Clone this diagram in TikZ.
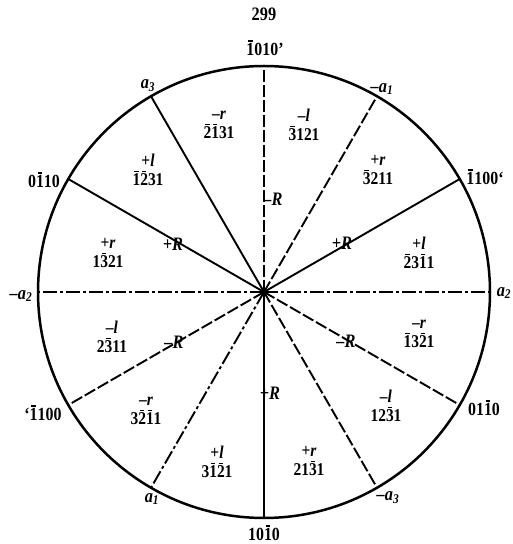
\documentclass[tikz,border=0pt]{standalone}
\usepackage{fontspec}
\setmainfont{Liberation Serif}[FakeStretch=0.86]
\newsavebox\obbox
\newcommand\ob[1]{\sbox\obbox{#1}\rlap{\hbox to\wd\obbox{\hss\rule[\dimexpr\ht\obbox+1.4pt\relax]{0.6\wd\obbox}{1.3pt}\hss}}\usebox\obbox{}}
\begin{document}
\begin{tikzpicture}[x=1pt,y=1pt,
  rimline/.style={line width=2.5pt},
  ray/.style={line width=1.9pt},
  dashray/.style={ray, dash pattern=on 12pt off 3pt},
  dotray/.style={ray, dash pattern=on 14pt off 3pt on 3pt off 3pt},
  idx/.style={font=\fontsize{18.5}{18}\selectfont\bfseries, inner sep=0pt},
  axl/.style={font=\fontsize{19}{18}\selectfont\bfseries\itshape, inner sep=0pt},
  sect/.style={align=center, font=\fontsize{18}{18.5}\selectfont\bfseries, inner sep=0pt},
  rl/.style={font=\fontsize{19}{16}\selectfont\bfseries\itshape, inner sep=0pt}]
\useasboundingbox (0,0) rectangle (512,544);
\coordinate (O) at (264,252);
\foreach \a in {0,30,...,330} \coordinate (p\a) at ([shift={(\a:226)}]O);
% rays
\draw[dotray] (O) -- (p0);
\draw[dotray] (O) -- (p180);
\draw[dashray] (O) -- (p90);
\draw[ray] (O) -- (p270);
\draw[ray] (O) -- (p30);
\draw[ray] (O) -- (p150);
\draw[ray] (O) -- (p120);
\draw[dashray] (O) -- (p60);
\draw[dashray] (O) -- (p210);
\draw[dotray] (O) -- (p240);
\draw[dashray] (O) -- (p300);
\draw[dashray] (O) -- (p330);
\draw[rimline] (O) circle (226);
% page number
\node[idx, font=\fontsize{19}{18}\selectfont\bfseries] (pg) at (264,530) {299};
% rim labels
\node[idx] (t90) at (265,496) {\ob{1}010'};
\node[idx] (t270) at (264,11) {10\ob{1}0};
\node[idx] (t150) at (44,364) {0\ob{1}10};
\node[idx] (t30) at (485,367) {\ob{1}100`};
\node[idx] (t210) at (43,131) {`\ob{1}100};
\node[idx] (t330) at (484,136) {01\ob{1}0};
\node[axl] (a120) at (148,458) {a\textsubscript{3}};
\node[axl] (a60) at (382,455) {--a\textsubscript{1}};
\node[axl] (a180) at (21,248) {--a\textsubscript{2}};
\node[axl] (a0) at (504,251) {a\textsubscript{2}};
\node[axl] (a240) at (152,45) {a\textsubscript{1}};
\node[axl] (a300) at (388,46) {--a\textsubscript{3}};
% sector labels
\node[sect] (s105) at (219,419) {--\textit{r}\\\ob{2}\ob{1}31};
\node[sect] (s75) at (304,419) {--\textit{l}\\\ob{3}121};
\node[sect] (s135) at (148,374) {+\textit{l}\\\ob{1}\ob{2}31};
\node[sect] (s45) at (378,374) {+\textit{r}\\\ob{3}211};
\node[sect] (s165) at (108,291) {+\textit{r}\\1\ob{3}21};
\node[sect] (s15) at (419,291) {+\textit{l}\\\ob{2}3\ob{1}1};
\node[sect] (s195) at (112,207) {--\textit{l}\\2\ob{3}11};
\node[sect] (s345) at (419,210) {--\textit{r}\\\ob{1}3\ob{2}1};
\node[sect] (s225) at (146,133) {--\textit{r}\\3\ob{2}\ob{1}1};
\node[sect] (s315) at (386,138) {--\textit{l}\\12\ob{3}1};
\node[sect] (s255) at (217,82) {+\textit{l}\\3\ob{1}\ob{2}1};
\node[sect] (s285) at (309,83) {+\textit{r}\\21\ob{3}1};
% ray labels
\node[rl] (r90) at (273,345) {--R};
\node[rl] (r270) at (270,151) {+R};
\node[rl] (r30) at (342,301) {+R};
\node[rl] (r150) at (173,300) {+R};
\node[rl] (r210) at (174,202) {--R};
\node[rl] (r330) at (346,203) {--R};
\end{tikzpicture}
\end{document}
